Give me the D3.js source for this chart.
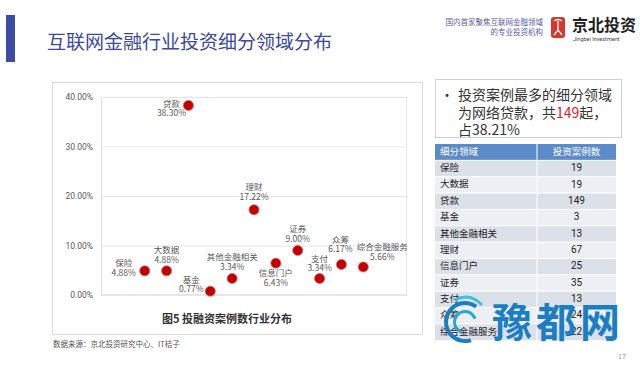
<!DOCTYPE html>
<html><head><meta charset="utf-8">
<script src="https://cdn.jsdelivr.net/npm/d3@7"></script>
<style>
html,body{margin:0;padding:0;background:#fff;}
svg{display:block;font-family:"Noto Sans CJK SC","Noto Sans",sans-serif;}
</style></head>
<body><svg id="c" width="640" height="365"></svg>
<script>
// ---- data ----
const categories = ["保险","大数据","贷款","基金","其他金融相关","理财","信息门户","证券","支付","众筹","综合金融服务"];
const shares = [4.88,4.88,38.30,0.77,3.34,17.22,6.43,9.00,3.34,6.17,5.66];
const counts = [19,19,149,3,13,67,25,35,13,24,22];
const yTicks = [0,10,20,30,40];
const tableHeader = ["细分领域","投资案例数"];
const pageTitle = "互联网金融行业投资细分领域分布";
const chartCaption = "图5  投融资案例数行业分布";
const sourceNote = "数据来源：京北投资研究中心、IT桔子";

const svg = d3.select("#c");

// ---- header ----
svg.append("rect").attr("x",6).attr("y",15).attr("width",9).attr("height",47).attr("fill","#3d4aa6");
svg.append("text").attr("x",47).attr("y",49).attr("font-size",19).attr("fill","#3a48a3").text(pageTitle);
svg.append("text").attr("x",543).attr("y",25).attr("text-anchor","end").attr("font-size",7.5).attr("fill","#5d5aa8").text("国内首家聚焦互联网金融领域");
svg.append("text").attr("x",543).attr("y",35).attr("text-anchor","end").attr("font-size",7.5).attr("fill","#5d5aa8").text("的专业投资机构");
// logo seal
const seal = svg.append("g").attr("transform","translate(551,17)");
seal.append("rect").attr("width",14).attr("height",21).attr("rx",3).attr("fill","#d9352b");
seal.append("path").attr("d","M3,4 Q7,1 11,4 M7,4 L7,13 M3,18 L7,13 L11,18").attr("stroke","#fff").attr("stroke-width",1.4).attr("fill","none");
svg.append("text").attr("x",572).attr("y",31).attr("font-size",16).attr("font-weight","bold").attr("fill","#222").text("京北投资");
svg.append("text").attr("x",573).attr("y",41).attr("font-size",5.5).attr("fill","#444").attr("font-family","Roboto, sans-serif").text("Jingbei Investment");

// ---- chart card ----
svg.append("rect").attr("x",52.5).attr("y",82.5).attr("width",370).attr("height",252).attr("fill","#fff").attr("stroke","#dcdcdc");

const x = d3.scaleLinear().domain([-1,13]).range([101,407]);
const y = d3.scaleLinear().domain([0,40]).range([295,97]);

const plot = svg.append("g");
plot.append("rect").attr("x",101.5).attr("y",97.5).attr("width",305).attr("height",197).attr("fill","none").attr("stroke","#e6e6e6");
const yAxis = d3.axisLeft(y).tickValues(yTicks).tickSize(-(407-101)).tickFormat(d=>d3.format(".2f")(d)+"%");
const ga = plot.append("g").attr("transform","translate(101,0)").call(yAxis);
ga.select(".domain").attr("stroke","#e0e0e0");
ga.selectAll(".tick line").attr("stroke","#e6e6e6");
ga.selectAll(".tick text").attr("x",-8).attr("font-size",8.5).attr("fill","#595959").attr("font-family","Roboto, sans-serif");

// label layout (offsets from each point)
const labelLayout = {
  "保险":[-21,-7],"大数据":[0,-20],"贷款":[-17,-1],"基金":[-19,-11],"其他金融相关":[0,-20.5],
  "理财":[0,-22],"信息门户":[0,11],"证券":[0,-20.5],"支付":[0,-19],"众筹":[-1,-24],"综合金融服务":[19,-19]
};
const pts = categories.map((c,i)=>({c, v:shares[i], i:i+1}));
plot.selectAll("circle.pt").data(pts).join("circle").attr("class","pt")
  .attr("cx",d=>x(d.i)).attr("cy",d=>y(d.v)).attr("r",5)
  .attr("fill","#c00000").attr("stroke","#e06060").attr("stroke-width",0.8);
const lab = plot.selectAll("g.lab").data(pts).join("g").attr("class","lab")
  .attr("transform",d=>`translate(${x(d.i)+labelLayout[d.c][0]},${y(d.v)+labelLayout[d.c][1]})`);
lab.append("text").attr("text-anchor","middle").attr("dominant-baseline","middle").attr("font-size",8.5).attr("fill","#595959").text(d=>d.c);
lab.append("text").attr("y",9.5).attr("text-anchor","middle").attr("dominant-baseline","middle").attr("font-size",8.5).attr("fill","#595959").text(d=>d3.format(".2f")(d.v)+"%");

svg.append("text").attr("x",227).attr("y",323).attr("text-anchor","middle").attr("font-size",11).attr("font-weight","bold").attr("fill","#333").text(chartCaption);
svg.append("text").attr("x",53).attr("y",347).attr("font-size",7.5).attr("fill","#555").text(sourceNote);

// ---- right text box ----
svg.append("rect").attr("x",435.5).attr("y",79.5).attr("width",186).attr("height",58).attr("fill","#fff").attr("stroke","#d0d0d0");
svg.append("text").attr("x",440).attr("y",100).attr("font-size",14).attr("fill","#333").text("•");
svg.append("text").attr("x",458).attr("y",100).attr("font-size",14).attr("fill","#333").text("投资案例最多的细分领域");
const l2 = svg.append("text").attr("x",458).attr("y",118).attr("font-size",14).attr("fill","#333");
l2.append("tspan").text("为网络贷款，共");
l2.append("tspan").attr("fill","#e02020").text(counts[categories.indexOf("贷款")]);
l2.append("tspan").text("起，");
svg.append("text").attr("x",458).attr("y",135).attr("font-size",14).attr("fill","#333").text("占38.21%");

// ---- table ----
const tx0 = 435, tx1 = 537, tx2 = 616, ty0 = 144, rh = 16.35;
const rows = d3.range(categories.length);
svg.append("rect").attr("x",tx0).attr("y",ty0).attr("width",tx2-tx0).attr("height",rh).attr("fill","#5b8bc9");
svg.append("line").attr("x1",tx1).attr("x2",tx1).attr("y1",ty0).attr("y2",ty0+rh).attr("stroke","#fff").attr("stroke-width",1);
svg.append("text").attr("x",440).attr("y",ty0+rh/2).attr("dominant-baseline","middle").attr("font-size",9.5).attr("fill","#fff").text(tableHeader[0]);
svg.append("text").attr("x",(tx1+tx2)/2).attr("y",ty0+rh/2).attr("dominant-baseline","middle").attr("text-anchor","middle").attr("font-size",9.5).attr("fill","#fff").text(tableHeader[1]);
const tr = svg.selectAll("g.row").data(rows).join("g").attr("class","row").attr("transform",i=>`translate(0,${ty0+rh*(i+1)})`);
tr.append("rect").attr("x",tx0).attr("width",tx2-tx0).attr("height",rh).attr("fill",i=>i%2===0?"#dce1e9":"#eceff4");
tr.append("line").attr("x1",tx0).attr("x2",tx2).attr("y1",0).attr("y2",0).attr("stroke","#fff");
tr.append("line").attr("x1",tx1).attr("x2",tx1).attr("y1",0).attr("y2",rh).attr("stroke","#fff");
tr.append("text").attr("x",440).attr("y",rh/2).attr("dominant-baseline","middle").attr("font-size",9.5).attr("fill","#222").text(i=>categories[i]);
tr.append("text").attr("x",(tx1+tx2)/2).attr("y",rh/2).attr("dominant-baseline","middle").attr("text-anchor","middle").attr("font-size",10).attr("fill","#222").attr("font-family","Roboto, sans-serif").text(i=>counts[i]);

svg.append("text").attr("x",622).attr("y",359).attr("text-anchor","middle").attr("font-size",7).attr("fill","#999").text("17");

// ---- watermark (overlays the table as in the source image) ----
const wm = svg.append("g");
const arc = d3.arc();
wm.append("path").attr("transform","translate(465,322)").attr("d",arc({innerRadius:17,outerRadius:21,startAngle:Math.PI*0.9,endAngle:Math.PI*2.2})).attr("fill","#1b7dc3");
wm.append("path").attr("transform","translate(465,322)").attr("d",arc({innerRadius:9,outerRadius:12,startAngle:Math.PI*1.1,endAngle:Math.PI*2.4})).attr("fill","#29a6d8");
wm.append("path").attr("d","M455,300 Q470,292 482,305").attr("stroke","#3cc0e0").attr("stroke-width",3).attr("fill","none");
wm.append("text").attr("x",492).attr("y",337).attr("font-size",40).attr("font-weight","bold").attr("letter-spacing",4).attr("fill","#1b7dc3").text("豫都网");
</script></body></html>
